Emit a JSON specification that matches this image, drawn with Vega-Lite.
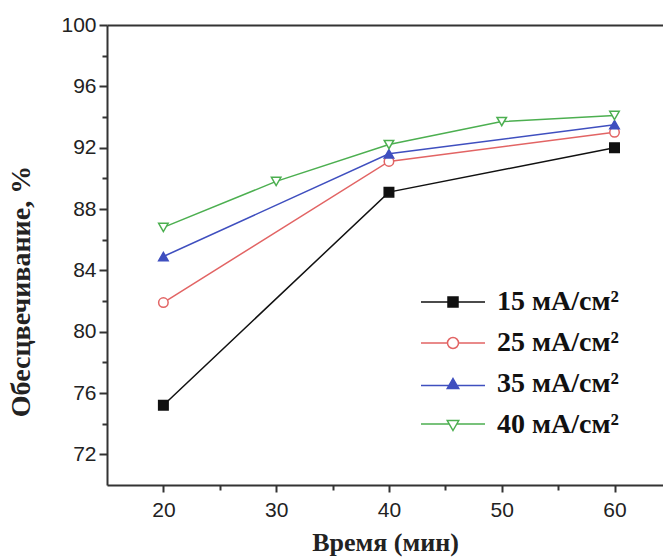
{
  "$schema": "https://vega.github.io/schema/vega-lite/v6.json",
  "autosize": "none",
  "width": 556,
  "height": 460,
  "padding": {"left": 107, "top": 25, "right": 0, "bottom": 73},
  "background": "white",
  "config": {
    "view": {"stroke": null},
    "axis": {"grid": false, "domainColor": "#333", "domainWidth": 2, "tickColor": "#333", "tickWidth": 2, "labelColor": "#222", "labelFont": "Liberation Sans", "labelFontSize": 21, "titleColor": "#222", "titleFont": "Liberation Serif", "titleFontWeight": "bold", "titleFontSize": 26}
  },
  "data": {"values": [
    {"t": 20, "v": 75.2, "s": "15 мА/см²"},
    {"t": 40, "v": 89.1, "s": "15 мА/см²"},
    {"t": 60, "v": 92.0, "s": "15 мА/см²"},
    {"t": 20, "v": 81.9, "s": "25 мА/см²"},
    {"t": 40, "v": 91.1, "s": "25 мА/см²"},
    {"t": 60, "v": 93.0, "s": "25 мА/см²"},
    {"t": 20, "v": 84.9, "s": "35 мА/см²"},
    {"t": 40, "v": 91.6, "s": "35 мА/см²"},
    {"t": 60, "v": 93.5, "s": "35 мА/см²"},
    {"t": 20, "v": 86.8, "s": "40 мА/см²"},
    {"t": 30, "v": 89.8, "s": "40 мА/см²"},
    {"t": 40, "v": 92.2, "s": "40 мА/см²"},
    {"t": 50, "v": 93.7, "s": "40 мА/см²"},
    {"t": 60, "v": 94.1, "s": "40 мА/см²"}
  ]},
  "resolve": {
    "scale": {"stroke": "independent", "fill": "independent", "shape": "independent"},
    "axis": {"x": "independent", "y": "independent"}
  },
  "layer": [
    {
      "mark": {"type": "line", "strokeWidth": 1.5},
      "encoding": {
        "x": {"field": "t", "type": "quantitative", "scale": {"domain": [15, 64.3], "nice": false, "zero": false},
              "axis": {"orient": "bottom", "values": [20, 30, 40, 50, 60], "tickSize": 7, "labelPadding": 7, "title": "Время (мин)", "titlePadding": 9}},
        "y": {"field": "v", "type": "quantitative", "scale": {"domain": [70, 100], "nice": false, "zero": false},
              "axis": {"orient": "left", "values": [72, 76, 80, 84, 88, 92, 96, 100], "tickSize": 8, "labelPadding": 3, "title": "Обесцвечивание, %", "titlePadding": 25, "titleFontSize": 28, "titleY": 266}},
        "stroke": {"field": "s", "type": "nominal", "scale": {"domain": ["15 мА/см²", "25 мА/см²", "35 мА/см²", "40 мА/см²"], "range": ["#111111", "#e26464", "#3f4fbf", "#4caf50"]}, "legend": null},
        "detail": {"field": "s"}
      }
    },
    {
      "mark": {"type": "point", "filled": false, "size": 90, "strokeWidth": 1.5, "opacity": 1},
      "encoding": {
        "x": {"field": "t", "type": "quantitative", "axis": {"orient": "top", "ticks": false, "labels": false, "title": null}},
        "y": {"field": "v", "type": "quantitative", "axis": {"orient": "left", "values": [74, 78, 82, 86, 90, 94, 98], "labels": false, "domain": false, "tickSize": 5, "title": null}},
        "stroke": {"field": "s", "type": "nominal", "scale": {"domain": ["15 мА/см²", "25 мА/см²", "35 мА/см²", "40 мА/см²"], "range": ["#111111", "#e26464", "#3f4fbf", "#4caf50"]}, "legend": null},
        "fill": {"field": "s", "type": "nominal", "scale": {"domain": ["15 мА/см²", "25 мА/см²", "35 мА/см²", "40 мА/см²"], "range": ["#111111", "#ffffff", "#3f4fbf", "#ffffff"]}, "legend": null},
        "shape": {"field": "s", "type": "nominal", "scale": {"domain": ["15 мА/см²", "25 мА/см²", "35 мА/см²", "40 мА/см²"], "range": ["square", "circle", "triangle-up", "triangle-down"]}, "legend": null}
      }
    },
    {
      "transform": [{"filter": "datum.t < 0"}],
      "mark": {"type": "point", "filled": false, "strokeWidth": 1.5, "opacity": 1},
      "encoding": {
        "x": {"field": "t", "type": "quantitative", "axis": {"orient": "bottom", "values": [25, 35, 45, 55], "labels": false, "domain": false, "tickSize": 5, "title": null}},
        "y": {"field": "v", "type": "quantitative", "axis": null},
        "stroke": {"field": "s", "type": "nominal", "scale": {"domain": ["15 мА/см²", "25 мА/см²", "35 мА/см²", "40 мА/см²"], "range": ["#111111", "#e26464", "#3f4fbf", "#4caf50"]},
                   "legend": {"title": null, "orient": "none", "legendX": 332, "legendY": 263, "symbolSize": 100, "symbolStrokeWidth": 1.5, "symbolOpacity": 1, "labelFont": "Liberation Serif", "labelFontWeight": "bold", "labelFontSize": 28, "labelColor": "#111", "labelOffset": 30, "rowPadding": 13, "padding": 0}},
        "fill": {"field": "s", "type": "nominal", "scale": {"domain": ["15 мА/см²", "25 мА/см²", "35 мА/см²", "40 мА/см²"], "range": ["#111111", "#ffffff", "#3f4fbf", "#ffffff"]},
                 "legend": {"title": null, "orient": "none", "legendX": 332, "legendY": 263, "symbolSize": 100, "symbolStrokeWidth": 1.5, "symbolOpacity": 1, "labelFont": "Liberation Serif", "labelFontWeight": "bold", "labelFontSize": 28, "labelColor": "#111", "labelOffset": 30, "rowPadding": 13, "padding": 0}},
        "shape": {"field": "s", "type": "nominal", "scale": {"domain": ["15 мА/см²", "25 мА/см²", "35 мА/см²", "40 мА/см²"], "range": [
                    "M-6.4,0H-1M1,0H6.4M-1,-1H1V1H-1Z",
                    "M-6.4,0H-1.1M1.1,0H6.4M-1.1,0A1.1,1.1,0,1,0,1.1,0A1.1,1.1,0,1,0,-1.1,0Z",
                    "M-6.4,0.3H-0.6M0.6,0.3H6.4M0,-1.1L1.15,0.9H-1.15Z",
                    "M-6.4,-0.2H-0.75M0.75,-0.2H6.4M0,1.1L1.15,-0.9H-1.15Z"
                  ]},
                  "legend": {"title": null, "orient": "none", "legendX": 332, "legendY": 263, "symbolSize": 100, "symbolStrokeWidth": 1.5, "symbolOpacity": 1, "labelFont": "Liberation Serif", "labelFontWeight": "bold", "labelFontSize": 28, "labelColor": "#111", "labelOffset": 30, "rowPadding": 13, "padding": 0}}
      }
    }
  ]
}
